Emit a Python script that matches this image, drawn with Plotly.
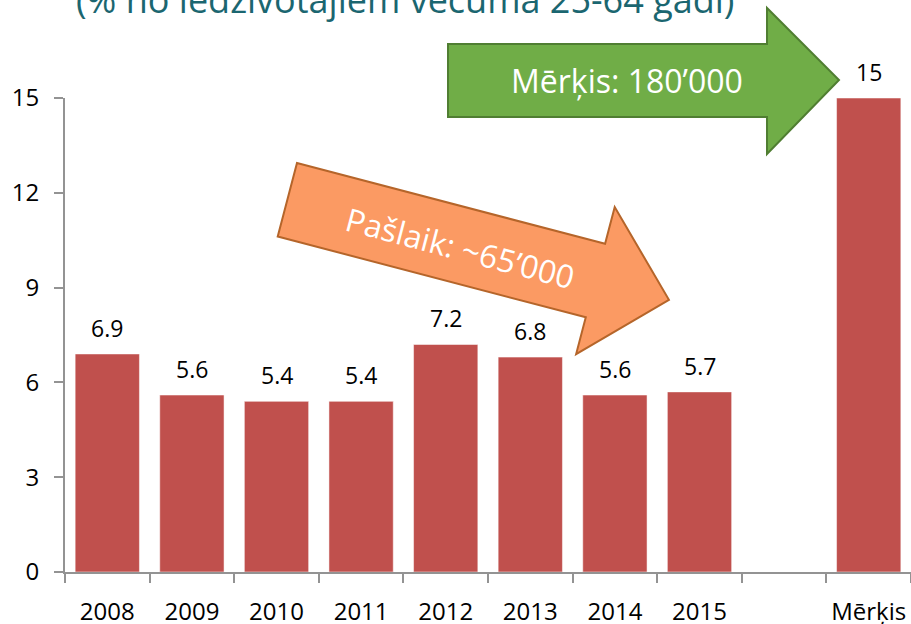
import math
import plotly.graph_objects as go

categories = ["2008", "2009", "2010", "2011", "2012", "2013", "2014", "2015", " ", "Mērķis"]
values = [6.9, 5.6, 5.4, 5.4, 7.2, 6.8, 5.6, 5.7, None, 15]
value_labels = ["6.9", "5.6", "5.4", "5.4", "7.2", "6.8", "5.6", "5.7", "", "15"]
y_ticks = [0, 3, 6, 9, 12, 15]
title_text = "(% no iedzīvotājiem vecumā 25-64 gadi)"
green_text = "Mērķis: 180’000"
orange_text = "Pašlaik: ~65’000"

W, H = 911, 624
ML, MR, MT, MB = 65, 0, 98, 52
PW = W - ML - MR
PH = H - MT - MB

def px(x):
    return (x - ML) / PW

def py(y):
    return (H - MB - y) / PH

def path_from(points):
    return "M " + " L ".join(f"{px(x):.5f},{py(y):.5f}" for x, y in points) + " Z"

# green arrow (pixel geometry)
green_pts = [(448, 44), (767, 44), (767, 8), (839, 80), (767, 154), (767, 117), (448, 117)]

# orange arrow: rotated
ox, oy = 297, 163
ang = math.radians(14.7)
u = (math.cos(ang), math.sin(ang))
n = (-math.sin(ang), math.cos(ang))
loc = [(0, 0), (318.5, 0), (318.5, -38), (394.5, 38), (318.5, 114), (318.5, 76), (0, 76)]
orange_pts = [(ox + a * u[0] + p * n[0], oy + a * u[1] + p * n[1]) for a, p in loc]

FONT = "Open Sans"

fig = go.Figure()
fig.add_trace(go.Bar(
    x=categories, y=values,
    marker=dict(color="#C0504D", line=dict(color="rgba(255,255,255,0.5)", width=1)),
    hoverinfo="skip",
))

for i, (v, t) in enumerate(zip(values, value_labels)):
    if v is None:
        continue
    fig.add_annotation(x=i, y=v, xref="x", yref="y", text=t, showarrow=False,
                       yanchor="bottom", yshift=8,
                       font=dict(family=FONT, size=23, color="#000000"))

fig.add_shape(type="path", xref="paper", yref="paper", path=path_from(green_pts),
              fillcolor="#70AD47", line=dict(color="#507E32", width=2), layer="above")
fig.add_shape(type="path", xref="paper", yref="paper", path=path_from(orange_pts),
              fillcolor="#FB9A63", line=dict(color="#B5652A", width=2), layer="above")

fig.add_annotation(x=px(627), y=py(80), xref="paper", yref="paper", text=green_text,
                   showarrow=False, xanchor="center", yanchor="middle",
                   font=dict(family=FONT, size=32, color="#FFFFFF"))
fig.add_annotation(x=px(460), y=py(247), xref="paper", yref="paper", text=orange_text,
                   showarrow=False, xanchor="center", yanchor="middle", textangle=14.7,
                   font=dict(family=FONT, size=32, color="#FFFFFF"))

fig.add_annotation(x=px(405), y=py(-1), xref="paper", yref="paper", text=title_text,
                   showarrow=False, xanchor="center", yanchor="middle",
                   font=dict(family=FONT, size=36, color="#1B6670"))

fig.update_layout(
    width=W, height=H,
    margin=dict(l=ML, r=MR, t=MT, b=MB, pad=0, autoexpand=False),
    paper_bgcolor="white", plot_bgcolor="white",
    bargap=0.24, showlegend=False,
    font=dict(family=FONT, color="#000000"),
)
fig.update_xaxes(
    type="category", categoryorder="array", categoryarray=categories,
    range=[-0.5, len(categories) - 0.5], automargin=False, tickangle=0,
    showline=True, linecolor="#939393", linewidth=2,
    ticks="outside", tickson="boundaries", ticklen=9, tickwidth=2, tickcolor="#939393",
    tickfont=dict(family=FONT, size=24, color="#000000"), ticklabelstandoff=17,
    showgrid=False, zeroline=False, fixedrange=True,
)
fig.update_yaxes(
    range=[0, 15], tickvals=y_ticks, automargin=False,
    showline=True, linecolor="#939393", linewidth=2,
    ticks="outside", ticklen=9, tickwidth=2, tickcolor="#939393",
    tickfont=dict(family=FONT, size=24, color="#000000"), ticklabelstandoff=10,
    showgrid=False, zeroline=False, fixedrange=True,
)

fig.write_html("out.html", config={"displayModeBar": False},
               post_script="document.body.style.margin='0px';document.body.style.overflow='hidden';")
